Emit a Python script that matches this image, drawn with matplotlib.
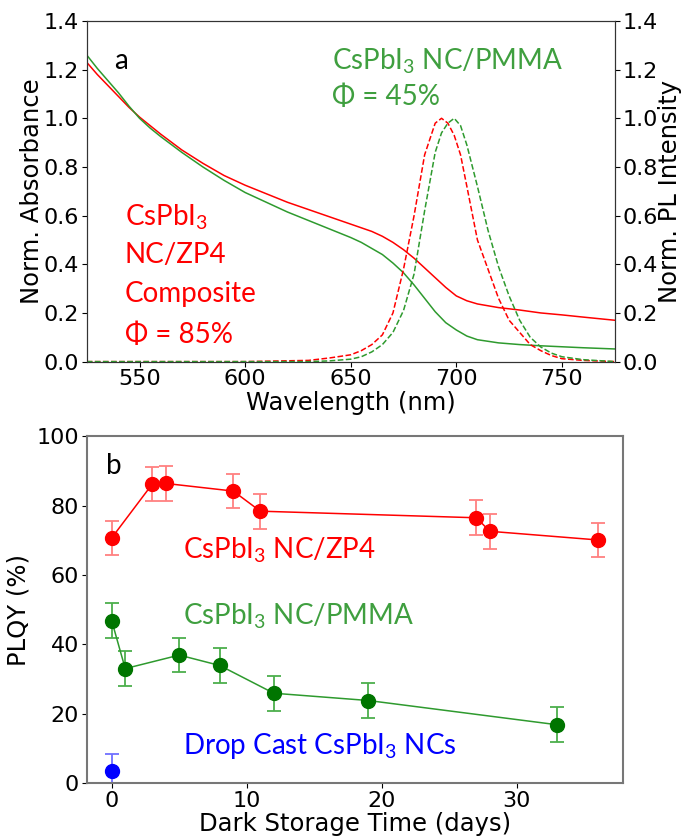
import numpy as np
import matplotlib
matplotlib.use("Agg")
import matplotlib.pyplot as plt

plt.rcParams['font.family'] = ['DejaVu Sans']
plt.rcParams['mathtext.fontset'] = 'custom'
plt.rcParams['mathtext.rm'] = 'Lato'

# ---- panel a : absorbance ----
wl_abs = [525, 530, 535, 540, 545, 550, 555, 560, 570, 580, 590, 600, 610, 620, 630,
          640, 650, 655, 660, 665, 670, 675, 680, 685, 690, 695, 700, 705, 710, 720,
          730, 740, 750, 760, 775]
abs_zp4 = [1.23, 1.18, 1.135, 1.09, 1.045, 1.005, 0.97, 0.935, 0.87, 0.815, 0.765,
           0.725, 0.69, 0.655, 0.625, 0.595, 0.565, 0.55, 0.535, 0.515, 0.49, 0.46,
           0.425, 0.385, 0.345, 0.305, 0.27, 0.25, 0.237, 0.222, 0.212, 0.2, 0.192,
           0.183, 0.17]
abs_pmma = [1.26, 1.205, 1.155, 1.105, 1.05, 1.0, 0.96, 0.925, 0.86, 0.80, 0.745,
            0.695, 0.655, 0.615, 0.58, 0.545, 0.51, 0.49, 0.465, 0.44, 0.405, 0.365,
            0.315, 0.26, 0.205, 0.16, 0.13, 0.105, 0.09, 0.077, 0.07, 0.065, 0.061,
            0.057, 0.052]

# ---- panel a : PL ----
wl_pl = [525, 600, 630, 640, 650, 655, 660, 665, 670, 675, 680, 685, 690, 693, 696,
         699, 702, 705, 710, 715, 720, 725, 730, 735, 740, 745, 750, 760, 775]
pl_zp4 = [0.0, 0.0, 0.005, 0.015, 0.028, 0.045, 0.07, 0.11, 0.20, 0.38, 0.60, 0.85,
          0.98, 1.0, 0.98, 0.93, 0.85, 0.72, 0.50, 0.38, 0.26, 0.17, 0.12, 0.07,
          0.045, 0.025, 0.012, 0.005, 0.0]
pl_pmma = [0.0, 0.0, 0.0, 0.003, 0.01, 0.02, 0.04, 0.07, 0.12, 0.21, 0.36, 0.62,
           0.86, 0.94, 0.98, 1.0, 0.97, 0.89, 0.72, 0.54, 0.39, 0.27, 0.17, 0.10,
           0.06, 0.035, 0.02, 0.008, 0.0]

# ---- panel b : PLQY vs storage time ----
days_zp4 = [0, 3, 4, 9, 11, 27, 28, 36]
plqy_zp4 = [70.7, 86.2, 86.4, 84.2, 78.4, 76.5, 72.6, 70.1]
days_pmma = [0, 1, 5, 8, 12, 19, 33]
plqy_pmma = [46.8, 33.0, 36.9, 33.9, 25.9, 23.8, 16.8]
days_drop = [0]
plqy_drop = [3.4]
err = 5

red = '#ff0000'
green_line = '#2e9a2e'
green_mk = '#007500'
green_txt = '#3f9f3f'
tfont = ['Lato', 'DejaVu Sans']
tsize = 20
lsize = 17.5
ksize = 16

fig = plt.figure(figsize=(6.83, 8.39), dpi=100)
ax1 = fig.add_axes([0.127, 0.569, 0.773, 0.406])
ax1.plot(wl_abs, abs_zp4, color=red, lw=1.1)
ax1.plot(wl_abs, abs_pmma, color=green_line, lw=1.1)
ax1b = ax1.twinx()
ax1b.plot(wl_pl, pl_zp4, color=red, lw=1.1, ls='--')
ax1b.plot(wl_pl, pl_pmma, color=green_line, lw=1.1, ls='--')
for a in (ax1, ax1b):
    a.set_ylim(0, 1.4)
    a.set_yticks(np.arange(0, 1.41, 0.2))
    a.tick_params(labelsize=ksize, pad=2)
    a.yaxis.set_major_formatter(matplotlib.ticker.FormatStrFormatter('%.1f'))
    for s in a.spines.values():
        s.set_color('#333333')
ax1.set_xlim(525, 775)
ax1.set_xticks([550, 600, 650, 700, 750])
ax1.set_xlabel('Wavelength (nm)', fontsize=lsize, labelpad=1)
ax1.set_ylabel('Norm. Absorbance', fontsize=lsize, labelpad=0)
ax1b.set_ylabel('Norm. PL Intensity', fontsize=lsize, labelpad=0)

ax1.text(538, 1.235, 'a', fontsize=tsize, family=tfont, va='center')
ax1.text(641, 1.235, r'CsPbI$_3$ NC/PMMA', fontsize=tsize, family=tfont,
         color=green_txt, va='center')
ax1.text(641, 1.087, 'Φ = 45%', fontsize=tsize, family=tfont,
         color=green_txt, va='center')
for txt, yy in [(r'CsPbI$_3$', 0.593), ('NC/ZP4', 0.44), ('Composite', 0.276),
                ('Φ = 85%', 0.11)]:
    ax1.text(543, yy, txt, fontsize=tsize, family=tfont, color=red, va='center')

# ---- panel b ----
ax2 = fig.add_axes([0.127, 0.0667, 0.785, 0.4133])
ax2.errorbar(days_zp4, plqy_zp4, yerr=err, color=red, marker='o', ms=10, lw=1.1,
             ecolor='#ff8080', capsize=5, elinewidth=1.3, capthick=1.3)
ax2.errorbar(days_pmma, plqy_pmma, yerr=err, color=green_line, marker='o', ms=10,
             mfc=green_mk, mec=green_mk, lw=1.1, ecolor='#4caf4c', capsize=5,
             elinewidth=1.3, capthick=1.3)
ax2.errorbar(days_drop, plqy_drop, yerr=err, color='#0000ff', marker='o', ms=10,
             ecolor='#7070ff', capsize=5, elinewidth=1.3, capthick=1.3)
ax2.set_xlim(-1.85, 37.85)
ax2.set_ylim(0, 100)
ax2.set_xticks([0, 10, 20, 30])
ax2.set_yticks([0, 20, 40, 60, 80, 100])
ax2.tick_params(labelsize=ksize, pad=2)
for s in ax2.spines.values():
    s.set_color('#777777')
    s.set_linewidth(1.5)
ax2.set_xlabel('Dark Storage Time (days)', fontsize=lsize, labelpad=1)
ax2.set_ylabel('PLQY (%)', fontsize=lsize, labelpad=4)
ax2.text(-0.4, 91.5, 'b', fontsize=tsize, family=tfont, va='center')
ax2.text(5.3, 67.2, r'CsPbI$_3$ NC/ZP4', fontsize=tsize, family=tfont, color=red,
         va='center')
ax2.text(5.3, 48, r'CsPbI$_3$ NC/PMMA', fontsize=tsize, family=tfont, color=green_txt,
         va='center')
ax2.text(5.3, 10.6, r'Drop Cast CsPbI$_3$ NCs', fontsize=tsize, family=tfont,
         color='#0000ff', va='center')

fig.savefig('out.png', dpi=100)
